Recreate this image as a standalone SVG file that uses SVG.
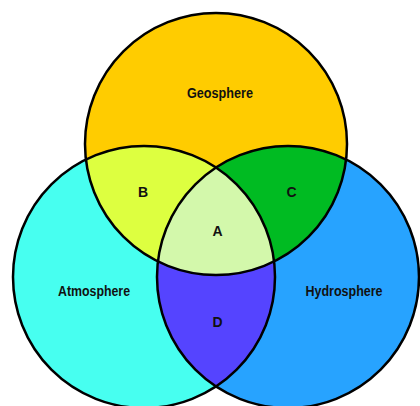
<svg xmlns="http://www.w3.org/2000/svg" width="420" height="406" viewBox="0 0 420 406">
<style>
.lbl{font-family:"Liberation Sans",Arial,sans-serif;font-weight:bold;font-size:14px;fill:#111;text-anchor:middle}
.ol{fill:none;stroke:#000;stroke-width:2.5}
</style>
<defs>
<clipPath id="cTop"><circle cx="216" cy="144" r="131"/></clipPath>
<clipPath id="cLeft"><circle cx="144" cy="277" r="131"/></clipPath>
<clipPath id="cRight"><circle cx="288" cy="277" r="131"/></clipPath>
</defs>
<rect width="420" height="406" fill="#fff"/>
<g id="geosphere"><circle cx="216" cy="144" r="131" fill="#FFCC00"/></g>
<g id="atmosphere"><circle cx="144" cy="277" r="131" fill="#47FFF0"/></g>
<g id="hydrosphere"><circle cx="288" cy="277" r="131" fill="#27A3FF"/></g>
<g id="regionB" clip-path="url(#cTop)"><circle cx="144" cy="277" r="131" fill="#DDFF40"/></g>
<g id="regionC" clip-path="url(#cTop)"><circle cx="288" cy="277" r="131" fill="#00BB22"/></g>
<g id="regionD" clip-path="url(#cLeft)"><circle cx="288" cy="277" r="131" fill="#5544FF"/></g>
<g id="regionA" clip-path="url(#cTop)"><g clip-path="url(#cLeft)"><circle cx="288" cy="277" r="131" fill="#D3F8AB"/></g></g>
<g id="outlines">
<circle class="ol" cx="216" cy="144" r="131"/>
<circle class="ol" cx="144" cy="277" r="131"/>
<circle class="ol" cx="288" cy="277" r="131"/>
</g>
<g id="labels">
<text class="lbl" x="220" y="98" textLength="66" lengthAdjust="spacingAndGlyphs">Geosphere</text>
<text class="lbl" x="94" y="296" textLength="72" lengthAdjust="spacingAndGlyphs">Atmosphere</text>
<text class="lbl" x="344" y="296" textLength="77" lengthAdjust="spacingAndGlyphs">Hydrosphere</text>
<text class="lbl" x="143" y="197">B</text>
<text class="lbl" x="291.5" y="197">C</text>
<text class="lbl" x="217.5" y="236">A</text>
<text class="lbl" x="217.5" y="327">D</text>
</g>
</svg>
